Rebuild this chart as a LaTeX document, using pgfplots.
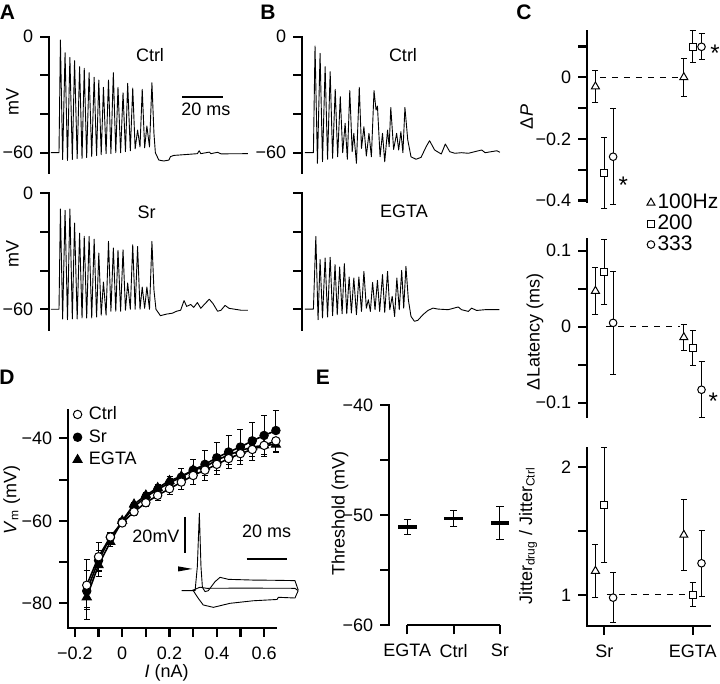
\documentclass[border=0pt]{standalone}
\usepackage{fontspec}
\setmainfont{Liberation Sans}
\usepackage{pgfplots}
\usepackage{pgfplotstable}
\pgfplotsset{compat=1.18}
\newcommand\fs{\fontsize{9}{10.8}\selectfont}
\newcommand\fl{\fontsize{10.5}{12}\selectfont}
\newcommand\pl{\fontsize{10.5}{12}\bfseries}

\pgfplotsset{
  pos/.style 2 args={at={({#1*0.5pt},{-#2*0.5pt})}},
  fig/.style={scale only axis, clip=false, anchor=north west,
    axis line style={line width=1.1pt, line cap=rect},
    tick style={black, line width=1.1pt},
    tick align=outside, major tick length=4.5pt, minor tick length=4.5pt,
    tick label style={font=\fs}, label style={font=\fs},
    xticklabel style={yshift=-1.5pt},
    /pgf/number format/assume math mode=true},
  trace/.style={fig, axis x line=none, axis y line*=left,
    xmin=0, ymin=-70.6, ymax=0, height=68.25pt, xtick=\empty,
    ytick={-60,-40,-20,0}},
  tr/.style={black, line width=0.45pt, mark=none, line join=round},
  cpan/.style={fig, width=61.35pt, xmin=0.808, xmax=2.196, axis lines*=left},
  ebar/.style={error bars/y dir=both, error bars/y explicit,
    error bars/error bar style={black, line width=0.5pt},
    error bars/error mark options={black, rotate=90, mark size=#1, line width=0.5pt}},
  cm/.style n args={2}{only marks, mark=#1, mark size=#2,
    mark options={fill=white, draw=black, line width=0.5pt},
    legend image code/.code={\draw[##1] plot coordinates {(0pt,0pt)}; \path (-2.6pt,0pt) (2.6pt,0pt);},
    ebar=1.5pt},
}

% D: current-voltage data, columns: I, mean, +err, -err
\pgfplotstableread{
I     ctrl  cp   cn   sr    sp   sn   egta  ep   en
-0.15 -75.6 6.2  6.0  -77.0 5.0  4.0  -78.5 2.0  5.5
-0.10 -68.7 3.4  3.5  -69.6 2.5  2.5  -70.7 2.0  2.8
-0.05 -63.9 1.0  1.2  -64.0 1.0  1.0  -65.1 0.8  1.0
0.00  -60.5 0.5  0.5  -60.2 0.5  0.5  -60.0 0.5  0.5
0.05  -57.8 0.6  0.8  -56.6 0.8  0.5  -56.0 0.5  0.6
0.10  -55.6 0.6  1.0  -54.2 1.0  0.5  -53.8 0.5  0.8
0.15  -53.8 0.5  1.2  -52.4 1.2  0.5  -52.0 0.5  1.0
0.20  -52.2 0.5  1.5  -50.8 1.6  0.5  -50.3 0.5  1.2
0.25  -50.6 0.5  1.8  -49.4 2.0  0.5  -49.2 0.5  1.5
0.30  -49.0 0.5  2.2  -47.7 2.6  0.5  -47.7 0.5  1.8
0.35  -47.7 0.5  2.4  -46.3 3.4  0.5  -46.9 0.5  2.0
0.40  -46.3 0.5  2.5  -44.7 3.8  0.5  -45.3 0.5  2.5
0.45  -44.9 0.5  2.5  -43.3 4.0  0.5  -44.0 0.5  2.4
0.50  -43.7 0.5  2.6  -42.1 4.2  0.5  -43.0 0.5  2.4
0.55  -42.7 0.5  2.6  -40.6 4.4  0.5  -42.1 0.5  2.3
0.60  -41.7 0.5  2.6  -39.3 4.8  0.5  -41.7 0.5  2.3
0.65  -40.6 0.5  2.5  -38.1 4.8  0.5  -41.5 0.5  2.0
}\ivdata

\begin{document}
\begin{tikzpicture}[x=0.5pt,y=-0.5pt,font=\fs]
\path[use as bounding box] (0,0) rectangle (720,684);

% ---------- A, Ctrl
\begin{axis}[trace, pos={49.3}{36.7}, width=99.5pt, xmax=98.5, yticklabels={−60,,,0}]
\addplot[tr] coordinates {
(0.8,-60) (4.8,-60) (5.5,-1.7) (6.6,-63.5) (7.8,-8.3) (9.0,-64) (10.2,-10.7) (11.4,-63.5)
(12.5,-12.4) (13.8,-63) (15.0,-15.5) (16.2,-63) (17.3,-16.4) (18.5,-62.5) (19.7,-18.6)
(21.0,-62) (22.2,-21.0) (23.4,-61.5) (24.5,-22.4) (25.7,-61) (26.8,-26.2) (28.1,-60.5)
(29.3,-22.4) (30.5,-60.5) (31.7,-18.6) (32.9,-60) (34.0,-26.2) (35.3,-60) (36.5,-29.0)
(37.7,-59.5) (38.8,-24.1) (40.1,-59) (41.3,-26.6) (42.5,-58) (43.7,-48.3) (44.9,-57)
(46.0,-27.2) (47.2,-57.5) (48.3,-46.2) (49.6,-57) (50.8,-23.8) (51.8,-50) (52.5,-60)
(54.2,-63.8) (56.7,-64.3) (59.2,-63.8) (60.0,-62) (61.7,-61.4) (68.3,-60.9) (73.3,-60.5)
(74.2,-59) (75.0,-60.5) (79.2,-59.7) (80.0,-60.5) (83.3,-59.8) (85,-60.6) (98.3,-60.5)};
\draw[line width=1.1pt] (axis cs:65.8,-31) -- (axis cs:85.8,-31);
\end{axis}

% ---------- A, Sr
\begin{axis}[trace, pos={49.3}{193.3}, width=99.5pt, xmax=98.5, yticklabels={−60,,,0}]
\addplot[tr] coordinates {
(0.8,-60) (4.8,-60) (5.5,-8.1) (6.6,-65) (7.8,-8.8) (9.0,-65.4) (10.2,-8.1) (11.4,-65)
(12.5,-15.4) (13.8,-65) (15.0,-20.6) (16.2,-64.5) (17.3,-22.3) (18.5,-64.5) (19.7,-22.3)
(21.0,-64.5) (22.2,-23.7) (23.4,-64) (24.5,-30.9) (25.7,-63) (26.8,-45.9) (28.1,-63)
(29.3,-24.9) (30.5,-61) (31.7,-28.3) (32.9,-61) (34.0,-29.5) (35.3,-61) (36.5,-29.2)
(37.7,-60.5) (38.8,-46.4) (40.1,-60) (41.3,-26.6) (42.5,-60) (43.7,-27.5) (44.9,-60)
(46.0,-48.5) (47.2,-59.5) (48.3,-48.5) (49.6,-60) (50.8,-24.9) (51.8,-50) (52.8,-60)
(55,-63.3) (58,-62.5) (61,-62) (63,-61) (65,-60.5) (66.7,-55.5) (68,-58.5) (70,-57.5)
(71.5,-59) (73.3,-56.5) (75,-59.5) (76.7,-57.5) (79.2,-54.8) (81,-57) (83.3,-61)
(85,-60.5) (87,-58) (89,-59.5) (92,-60) (95,-60.5) (98.3,-60.5)};
\end{axis}

% ---------- B, Ctrl
\begin{axis}[trace, pos={302.3}{36.7}, width=99pt, xmax=98, yticklabels={−60,,,0}]
\addplot[tr] coordinates {
(1.3,-60) (5.5,-60) (6.3,-4.8) (7.5,-65.5) (8.8,-8.6) (10,-64.7) (11.3,-15.5) (12.5,-63.4)
(13.8,-18.1) (15,-62.9) (16.3,-27.2) (17.5,-62.1) (18.8,-31) (20,-60) (21.2,-44.8)
(22.3,-63.4) (23.5,-27.9) (24.7,-59.5) (25.5,-50) (26.8,-65.5) (28.2,-26.2) (29.3,-57.8)
(30.5,-46.6) (31.7,-61.7) (33,-50) (34.2,-62.1) (35.5,-27.9) (36.5,-37.9) (37.2,-35.9)
(38.5,-62.1) (39.7,-50) (40.8,-64.7) (42.2,-48.3) (43,-56.9) (43.8,-36.6) (45.2,-58.3)
(46.7,-50) (47.7,-58.6) (48.8,-49.1) (49.8,-60) (50.8,-36.6) (52.2,-53.4) (53.8,-62.1)
(56.3,-63.4) (58.8,-62.4) (61.3,-56.9) (63,-53.8) (65.5,-58.6) (68.8,-60.7) (70.8,-55.5)
(73,-59.5) (75.5,-60.3) (78.8,-60) (82.2,-60.3) (88.8,-58.6) (90.5,-60) (96.3,-59) (97.8,-59.8)};
\end{axis}

% ---------- B, EGTA
\begin{axis}[trace, pos={302.3}{193.3}, width=99pt, xmax=98, yticklabels={}]
\addplot[tr] coordinates {
(1.3,-59.9) (5.5,-59.9) (6.7,-22.3) (7.8,-65.4) (8.8,-34.3) (10,-64.5) (11.3,-33.5)
(12.5,-64) (13.8,-33.1) (15,-63.3) (16.2,-36.9) (17.3,-62.8) (18.5,-38.1) (19.7,-62.3)
(20.8,-36.4) (22,-62.3) (23.2,-43.3) (24.3,-61.9) (25.5,-43.8) (26.8,-62.8) (28,-43.3)
(29.3,-61.1) (30.5,-40.4) (31.7,-59.4) (32.7,-55.1) (33.7,-61.1) (34.8,-46.1) (36,-60.2)
(37.2,-45) (38.3,-61.1) (39.7,-42.1) (40.8,-61.6) (42.2,-40.4) (43.3,-60.2) (44.5,-53.3)
(45.7,-63.7) (46.8,-43.8) (48,-60.2) (49.2,-39.9) (50.2,-59.4) (51.3,-37.8) (52.5,-55.1)
(53.8,-63.7) (55.5,-66.2) (57.2,-65.7) (59.7,-62.8) (62.2,-60.6) (64.7,-59.4) (67.2,-59.9)
(72.2,-60.2) (77.2,-58.8) (78.8,-60.2) (82.2,-61.1) (83.8,-59.4) (86.3,-60.6) (90.5,-60.2)
(97.5,-60.2)};
\end{axis}

% ---------- C, Delta P
\begin{axis}[cpan, pos={587.3}{31.1}, height=85.45pt, ymin=-0.405, ymax=0.15,
  x axis line style={draw=none}, xtick=\empty,
  ytick={-0.4,-0.2,0}, yticklabels={−0.4,−0.2,0}, minor ytick={-0.3,-0.1,0.1},
  legend cell align=left,
  legend style={draw=none, fill=none, font=\fl, at={(axis description cs:0.47,0.055)},
    anchor=north west, inner sep=0pt, row sep=0.6pt, nodes={inner sep=0.5pt}}]
\draw[dashed, line width=0.5pt] (axis cs:0.95,0) -- (axis cs:1.88,0);
\addplot[cm={triangle*}{2.3pt}] coordinates {(0.9,-0.03) +- (0,0.053) (1.9,0) +- (0,0.062)};
\addlegendentry{100Hz}
\addplot[cm={square*}{1.75pt}] coordinates {(1.0,-0.31) +- (0,0.116) (2.0,0.099) +- (0,0.052)};
\addlegendentry{200}
\addplot[cm={*}{1.9pt}] coordinates {(1.1,-0.258) +- (0,0.155) (2.1,0.099) +- (0,0.042)};
\addlegendentry{333}
\end{axis}

% ---------- C, Delta latency
\begin{axis}[cpan, pos={587.3}{239.3}, height=88.9pt, ymin=-0.119, ymax=0.115,
  x axis line style={draw=none}, xtick=\empty,
  ytick={-0.1,0,0.1}, yticklabels={−0.1,0,0.1}, minor ytick={-0.05,0.05}]
\draw[dashed, line width=0.5pt] (axis cs:1.02,0) -- (axis cs:1.86,0);
\addplot[cm={triangle*}{2.3pt}] coordinates {(0.9,0.047) +- (0,0.031) (1.9,-0.014) +- (0,0.017)};
\addplot[cm={square*}{1.75pt}] coordinates {(1.0,0.072) +- (0,0.043) (2.0,-0.0285) +- (0,0.023)};
\addplot[cm={*}{1.9pt}] coordinates {(1.1,0.005) +- (0,0.068) (2.1,-0.083) +- (0,0.037)};
\end{axis}

% ---------- C, jitter ratio
\begin{axis}[cpan, pos={587.3}{448.1}, height=88.95pt, ymin=0.757, ymax=2.15,
  ytick={1,2}, yticklabels={1,2}, minor ytick={1.5},
  xtick={1,2}, xticklabels={Sr,EGTA}]
\draw[dashed, line width=0.5pt] (axis cs:1.03,1) -- (axis cs:1.93,1);
\addplot[cm={triangle*}{2.3pt}] coordinates {(0.9,1.188) +- (0,0.21) (1.9,1.47) +- (0,0.275)};
\addplot[cm={square*}{1.75pt}] coordinates {(1.0,1.705) +- (0,0.45) (2.0,1.0) +- (0,0.094)};
\addplot[cm={*}{1.9pt}] coordinates {(1.1,0.979) +- (0,0.196) (2.1,1.248) +- (0,0.26)};
\end{axis}

% ---------- D, I-V
\begin{axis}[fig, pos={68.3}{409.9}, width=103.8pt, height=108.9pt,
  xmin=-0.228, xmax=0.65, ymin=-85.9, ymax=-33.1, axis lines*=left,
  xtick={-0.2,0,0.2,0.4,0.6}, xticklabels={−0.2,0,0.2,0.4,0.6}, minor xtick={-0.1,0.1,0.3,0.5},
  ytick={-80,-60,-40}, yticklabels={−80,−60,−40}, minor ytick={-70,-50},
  reverse legend, legend cell align=left,
  legend image code/.code={\draw[#1] plot coordinates {(0pt,0pt)}; \path (-2.8pt,0pt) (2.8pt,0pt);},
  legend style={draw=none, fill=none, font=\fs, at={(axis description cs:0.012,1.027)},
    anchor=north west, inner sep=0pt, row sep=1.5pt, nodes={inner sep=1pt}, /tikz/column sep=1.5pt}]
\addplot[black, line width=0.8pt, mark=triangle*, mark size=2.6pt,
  mark options={fill=black, line width=0.5pt}, ebar=1.5pt]
  table[x=I, y=egta, y error plus=ep, y error minus=en] {\ivdata};
\addlegendentry{EGTA}
\addplot[black, line width=0.8pt, mark=*, mark size=2.1pt,
  mark options={fill=black, line width=0.5pt}, ebar=1.5pt]
  table[x=I, y=sr, y error plus=sp, y error minus=sn] {\ivdata};
\addlegendentry{Sr}
\addplot[black, line width=0.8pt, mark=*, mark size=2.1pt,
  mark options={fill=white, line width=0.5pt}, ebar=1.5pt]
  table[x=I, y=ctrl, y error plus=cp, y error minus=cn] {\ivdata};
\addlegendentry{Ctrl}
\end{axis}

% ---------- D inset
\begin{axis}[scale only axis, anchor=north west, pos={181.7}{512}, width=58.85pt, height=48.5pt,
  xmin=0, xmax=58, ymin=-10, ymax=43, hide axis, clip=false]
\addplot[tr] coordinates {(0,0) (6.6,0) (7.7,13.1) (8.7,42.3) (9.5,13.1) (10.2,1.9) (11.5,-0.5)
  (13.1,0) (16.4,4.9) (18.9,7.3) (23,6.2) (35.3,5.8) (45,5.7) (55.8,5.5) (57.4,0.4)};
\addplot[tr] coordinates {(4.9,0) (9,1.9) (12.3,1.3) (30,1.4) (55.8,1.3) (57.4,0)};
\addplot[tr] coordinates {(5.7,0) (8.2,-4.2) (10.6,-7.8) (15.6,-9.1) (23.8,-6.9) (35.3,-5.5)
  (47,-4.8) (47.6,-3.6) (55.8,-4.0) (57.4,0)};
\draw[line width=0.8pt] (axis cs:1.6,40.4) -- (axis cs:1.6,20.4);
\draw[line width=0.8pt] (axis cs:32,17.2) -- (axis cs:52,17.2);
\fill (axis cs:5.2,11.9) -- (axis cs:-1.8,13.3) -- (axis cs:-1.8,10.5) -- cycle;
\end{axis}

% ---------- E, threshold
\begin{axis}[fig, pos={389.3}{405}, width=56.5pt, height=110.15pt,
  xmin=0.611, xmax=3.05, ymin=-60, ymax=-40, axis lines*=left,
  x axis line style={draw=none},
  xtick={1,2,3}, xticklabels={EGTA,Ctrl,Sr},
  ytick={-60,-50,-40}, yticklabels={−60,−50,−40}, minor ytick={-55,-45}]
\draw[line width=1.1pt] (axis cs:1,-60) -- (axis cs:3,-60);
\addplot[black, only marks, mark=-, mark size=4.6pt, mark options={line width=1.8pt}, ebar=1.8pt]
  coordinates {(1,-51.1) +- (0,0.68) (2,-50.3) +- (0,0.75) (3,-50.7) +- (0,1.48)};
\end{axis}

% ---------- text
\node[font=\pl] at (7.5,12.2) {A};
\node[font=\pl] at (268,12) {B};
\node[font=\pl] at (524,12.5) {C};
\node[font=\pl] at (7,377) {D};
\node[font=\pl] at (323,377) {E};
\node at (150,55) {Ctrl};
\node at (146.7,212.5) {Sr};
\node at (403,55) {Ctrl};
\node at (404,211.7) {EGTA};
\node at (206,109) {20 ms};
\node[rotate=90] at (12.5,101.7) {mV};
\node[rotate=90] at (12.5,254) {mV};
\node[rotate=90] at (526.7,117) {Δ\textit{P}};
\node[rotate=90] at (535,332) {ΔLatency (ms)};
\node[rotate=90] at (528,536) {Jitter\textsubscript{drug} / Jitter\textsubscript{Ctrl}};
\node[font=\fontsize{12}{12}\selectfont] at (623.3,185) {*};
\node[font=\fontsize{12}{12}\selectfont] at (715,53.3) {*};
\node[font=\fontsize{12}{12}\selectfont] at (713.3,401.7) {*};
\node[rotate=90] at (11.7,500) {\textit{V}\textsubscript{m} (mV)};
\node at (166.7,673.3) {\textit{I} (nA)};
\node at (156,536.7) {20mV};
\node at (266.7,531.7) {20 ms};
\node[rotate=90] at (340,513.3) {Threshold (mV)};
\end{tikzpicture}
\end{document}
